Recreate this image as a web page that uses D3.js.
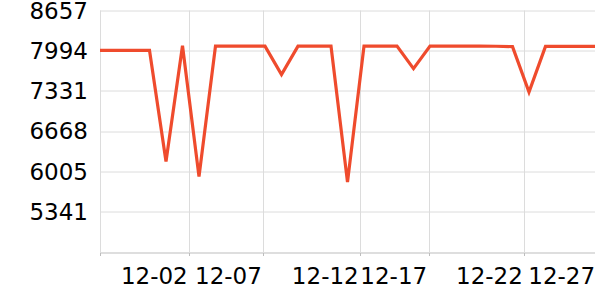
<!DOCTYPE html>
<html>
  <head>
    <meta charset="utf-8">
    <title>Line chart</title>
<style>
body { margin: 0; background: #fff; }
text { font-family: "DejaVu Sans", sans-serif; font-size: 23px; fill: #000; }
.grid line { stroke: #dcdcdc; stroke-width: 1px; }
.line { fill: none; stroke: #ef4b2d; stroke-width: 3.2px; stroke-linejoin: miter; }
</style>
    <script src="https://d3js.org/d3.v7.min.js"></script>
  </head>
  <body>
    <svg class="chart"></svg>
    <script type="text/javascript">

      // one value per point (31 points, evenly spaced)
      var values = [8000, 8000, 8000, 8000, 6170, 8075, 5920, 8070, 8070, 8070,
                    8070, 7600, 8070, 8070, 8070, 5830, 8070, 8070, 8070, 7700,
                    8070, 8070, 8070, 8070, 8068, 8062, 7315, 8066, 8066, 8066, 8066];

      // y ticks shown on the axis
      var yTicks = [8657, 7994, 7331, 6668, 6005, 5341];
      var yMin = 4677.8, yMax = 8657;

      // x tick labels and where they sit along the point index
      var xTickLabels = ["12-02", "12-07", "12-12", "12-17", "12-22", "12-27"];
      var xTickPos = [5.41, 9.9, 15.77, 19.92, 25.72, 30.1];

      var margin = {top: 10.5, right: 5, bottom: 48, left: 100},
        width = 600 - margin.left - margin.right,
        height = 300 - margin.top - margin.bottom;

      var svg = d3.select("svg")
        .attr("width", 600)
        .attr("height", 300);

      var x = d3.scaleLinear().domain([0, values.length - 1]).range([0, width]);
      var y = d3.scaleLinear().domain([yMin, yMax]).range([height, 0]);

      var g = svg.append("g")
        .attr("transform", "translate(" + margin.left + "," + margin.top + ")");

      // horizontal grid
      g.append("g").attr("class", "grid")
        .selectAll("line").data(yTicks).enter().append("line")
        .attr("x1", 0).attr("x2", width)
        .attr("y1", function(d) { return Math.round(y(d)) + 0.5; })
        .attr("y2", function(d) { return Math.round(y(d)) + 0.5; });

      // vertical grid (only inside the plot)
      var inside = xTickPos.filter(function(d) { return x(d) <= width; });
      g.append("g").attr("class", "grid")
        .selectAll("line").data([0].concat(inside)).enter().append("line")
        .attr("x1", function(d) { return Math.round(x(d)) + 0.5; })
        .attr("x2", function(d) { return Math.round(x(d)) + 0.5; })
        .attr("y1", 0).attr("y2", height);

      // y labels
      g.selectAll(".ylab").data(yTicks).enter().append("text")
        .attr("class", "ylab")
        .attr("x", -12)
        .attr("y", function(d) { return y(d); })
        .attr("dy", "0.36em")
        .style("text-anchor", "end")
        .text(function(d) { return d; });

      // x axis line and ticks
      var xAxis = g.append("g").attr("transform", "translate(0," + (Math.round(height) + 0.5) + ")");
      xAxis.append("line")
        .attr("x1", 0).attr("x2", width)
        .attr("stroke", "#bdbdbd");
      xAxis.selectAll(".tk").data([0].concat(inside)).enter().append("line")
        .attr("class", "tk")
        .attr("x1", function(d) { return Math.round(x(d)) + 0.5; })
        .attr("x2", function(d) { return Math.round(x(d)) + 0.5; })
        .attr("y1", 0).attr("y2", 3)
        .attr("stroke", "#bdbdbd");
      xAxis.selectAll(".xlab").data(xTickPos).enter().append("text")
        .attr("class", "xlab")
        .attr("x", function(d) { return x(d) - 1.5; })
        .attr("y", 30.5)
        .style("text-anchor", "end")
        .text(function(d, i) { return xTickLabels[i]; });

      // the line
      var valueline = d3.line()
        .x(function(d, i) { return x(i); })
        .y(function(d) { return y(d); });

      g.append("path")
        .datum(values)
        .attr("class", "line")
        .attr("d", valueline);

    </script>
  </body>
</html>
